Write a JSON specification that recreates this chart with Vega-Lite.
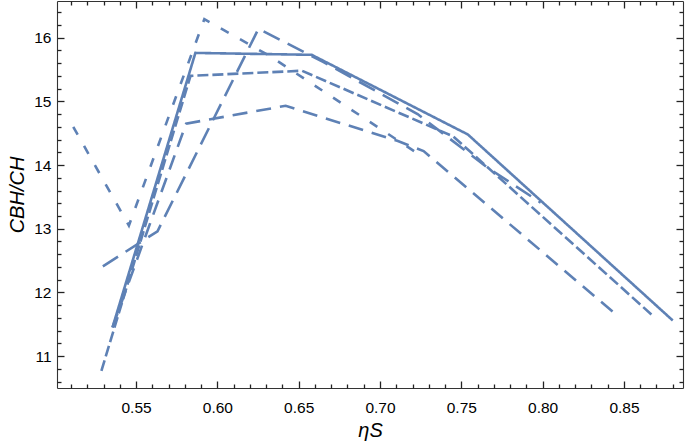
{
  "$schema": "https://vega.github.io/schema/vega-lite/v6.json",
  "width": 626,
  "height": 387,
  "autosize": "none",
  "padding": {"left": 57, "top": 1, "right": 2, "bottom": 54},
  "config": {
    "view": {"stroke": null},
    "axis": {
      "grid": false,
      "domainColor": "#333333",
      "domainWidth": 1.1,
      "tickColor": "#222222",
      "tickWidth": 1.3,
      "labelFont": "Liberation Sans",
      "labelFontSize": 15.5,
      "labelColor": "#000000",
      "labelOverlap": false,
      "labelFlush": false,
      "titleFont": "Liberation Sans",
      "titleFontStyle": "italic",
      "titleFontWeight": "normal",
      "titleFontSize": 20,
      "titleColor": "#000000"
    }
  },
  "data": {
    "values": [
      {"s": "A", "i": 0, "x": 0.5355, "y": 11.45},
      {"s": "A", "i": 1, "x": 0.5865, "y": 15.76},
      {"s": "A", "i": 2, "x": 0.658, "y": 15.73},
      {"s": "A", "i": 3, "x": 0.754, "y": 14.48},
      {"s": "A", "i": 4, "x": 0.88, "y": 11.56},
      {"s": "B", "i": 0, "x": 0.5287, "y": 10.77},
      {"s": "B", "i": 1, "x": 0.5835, "y": 15.4},
      {"s": "B", "i": 2, "x": 0.652, "y": 15.48},
      {"s": "B", "i": 3, "x": 0.745, "y": 14.45},
      {"s": "B", "i": 4, "x": 0.8675, "y": 11.64},
      {"s": "C", "i": 0, "x": 0.5296, "y": 12.41},
      {"s": "C", "i": 1, "x": 0.5632, "y": 12.96},
      {"s": "C", "i": 2, "x": 0.6253, "y": 16.14},
      {"s": "C", "i": 3, "x": 0.665, "y": 15.62},
      {"s": "C", "i": 4, "x": 0.7231, "y": 14.8},
      {"s": "C", "i": 5, "x": 0.7661, "y": 13.96},
      {"s": "C", "i": 6, "x": 0.7988, "y": 13.41},
      {"s": "D", "i": 0, "x": 0.5114, "y": 14.6},
      {"s": "D", "i": 1, "x": 0.5456, "y": 13.05},
      {"s": "D", "i": 2, "x": 0.592, "y": 16.29},
      {"s": "D", "i": 3, "x": 0.633, "y": 15.7},
      {"s": "D", "i": 4, "x": 0.7268, "y": 14.12},
      {"s": "G", "i": 0, "x": 0.5355, "y": 11.45},
      {"s": "G", "i": 1, "x": 0.5808, "y": 14.65},
      {"s": "G", "i": 2, "x": 0.642, "y": 14.93},
      {"s": "G", "i": 3, "x": 0.7106, "y": 14.38},
      {"s": "G", "i": 4, "x": 0.7268, "y": 14.22},
      {"s": "G", "i": 5, "x": 0.843, "y": 11.7}
    ]
  },
  "layer": [
    {
      "mark": {"type": "line", "color": "#5E81B5", "strokeWidth": 2.6, "strokeCap": "butt", "strokeJoin": "miter", "clip": true},
      "encoding": {
        "x": {
          "field": "x", "type": "quantitative",
          "scale": {"domain": [0.5014, 0.8863], "nice": false, "zero": false},
          "axis": {
            "orient": "bottom",
            "title": "ηS",
            "titlePadding": 5,
            "values": [0.55, 0.6, 0.65, 0.7, 0.75, 0.8, 0.85],
            "format": ".2f",
            "tickSize": -7,
            "labelPadding": 19
          }
        },
        "y": {
          "field": "y", "type": "quantitative",
          "scale": {"domain": [10.5, 16.575], "nice": false, "zero": false},
          "axis": {
            "orient": "left",
            "title": "CBH/CH",
            "titlePadding": 6,
            "values": [11, 12, 13, 14, 15, 16],
            "format": "d",
            "tickSize": -7,
            "labelPadding": 13
          }
        },
        "strokeDash": {
          "field": "s", "type": "nominal",
          "scale": {"domain": ["A", "B", "C", "D", "G"], "range": [[1, 0], [11, 4], [18, 9], [9, 13], [15, 9]]},
          "legend": null
        },
        "detail": {"field": "s"},
        "order": {"field": "i", "type": "quantitative"}
      }
    },
    {
      "mark": {"type": "line", "opacity": 0},
      "encoding": {
        "x": {"field": "x", "type": "quantitative",
          "axis": {"orient": "top", "title": null, "labels": false, "tickSize": -7,
            "values": [0.55, 0.6, 0.65, 0.7, 0.75, 0.8, 0.85]}},
        "y": {"field": "y", "type": "quantitative",
          "axis": {"orient": "right", "title": null, "labels": false, "tickSize": -7,
            "values": [11, 12, 13, 14, 15, 16]}},
        "detail": {"field": "s"}
      }
    },
    {
      "mark": {"type": "line", "opacity": 0},
      "encoding": {
        "x": {"field": "x", "type": "quantitative",
          "axis": {"orient": "bottom", "title": null, "labels": false, "domain": false, "tickSize": -4,
            "values": [0.51,0.52,0.53,0.54,0.56,0.57,0.58,0.59,0.61,0.62,0.63,0.64,0.66,0.67,0.68,0.69,0.71,0.72,0.73,0.74,0.76,0.77,0.78,0.79,0.81,0.82,0.83,0.84,0.86,0.87,0.88]}},
        "y": {"field": "y", "type": "quantitative",
          "axis": {"orient": "left", "title": null, "labels": false, "domain": false, "tickSize": -4,
            "values": [10.6,10.8,11.2,11.4,11.6,11.8,12.2,12.4,12.6,12.8,13.2,13.4,13.6,13.8,14.2,14.4,14.6,14.8,15.2,15.4,15.6,15.8,16.2,16.4]}},
        "detail": {"field": "s"}
      }
    },
    {
      "mark": {"type": "line", "opacity": 0},
      "encoding": {
        "x": {"field": "x", "type": "quantitative",
          "axis": {"orient": "top", "title": null, "labels": false, "domain": false, "tickSize": -4,
            "values": [0.51,0.52,0.53,0.54,0.56,0.57,0.58,0.59,0.61,0.62,0.63,0.64,0.66,0.67,0.68,0.69,0.71,0.72,0.73,0.74,0.76,0.77,0.78,0.79,0.81,0.82,0.83,0.84,0.86,0.87,0.88]}},
        "y": {"field": "y", "type": "quantitative",
          "axis": {"orient": "right", "title": null, "labels": false, "domain": false, "tickSize": -4,
            "values": [10.6,10.8,11.2,11.4,11.6,11.8,12.2,12.4,12.6,12.8,13.2,13.4,13.6,13.8,14.2,14.4,14.6,14.8,15.2,15.4,15.6,15.8,16.2,16.4]}},
        "detail": {"field": "s"}
      }
    }
  ],
  "resolve": {"axis": {"x": "independent", "y": "independent"}}
}
